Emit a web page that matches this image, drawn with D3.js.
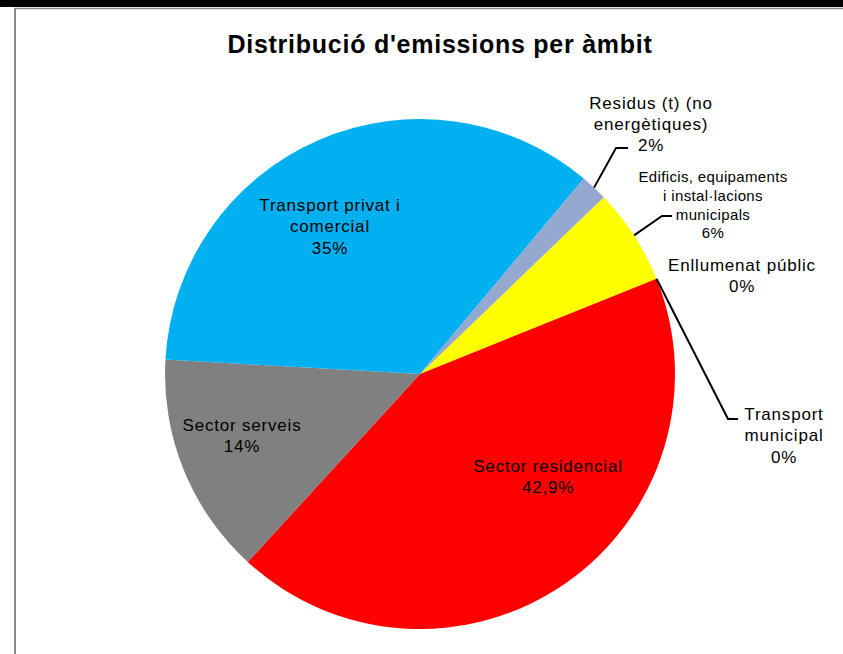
<!DOCTYPE html>
<html>
<head>
<meta charset="utf-8">
<script src="https://cdn.jsdelivr.net/npm/d3@7"></script>
<style>
  html, body { margin: 0; padding: 0; background: #fff; }
  svg { display: block; }
  text { font-family: "Liberation Sans", Arial, sans-serif; fill: #000; }
</style>
</head>
<body>
<svg id="chart" width="843" height="654"></svg>
<script>
// ---- Data ----
const categories = [
  "Edificis, equipaments i instal·lacions municipals",
  "Enllumenat públic",
  "Transport municipal",
  "Sector residencial",
  "Sector serveis",
  "Transport privat i comercial",
  "Residus (t) (no energètiques)"
];
const values = [6.1, 0.0, 0.0, 42.9, 14.1, 35.2, 1.7];
const percentLabels = ["6%", "0%", "0%", "42,9%", "14%", "35%", "2%"];
const labelLines = [
  ["Edificis, equipaments", "i instal·lacions", "municipals"],
  ["Enllumenat públic"],
  ["Transport", "municipal"],
  ["Sector residencial"],
  ["Sector serveis"],
  ["Transport privat i", "comercial"],
  ["Residus (t) (no", "energètiques)"]
];
const colors = ["#FFFF00", "#FFFF00", "#FFFF00", "#FF0000", "#808080", "#00B0F0", "#95A8CF"];
const title = "Distribució d'emissions per àmbit";

// ---- Layout ----
const W = 843, H = 654;
const cx = 420, cy = 374, R = 255;
const svg = d3.select("#chart");

// frame
svg.append("rect").attr("x", 0).attr("y", 0).attr("width", W).attr("height", 7).attr("fill", "#000");
svg.append("line").attr("x1", 14).attr("x2", W).attr("y1", 8.5).attr("y2", 8.5).attr("stroke", "#8a8a8a").attr("stroke-width", 1.5);
svg.append("line").attr("x1", 15).attr("x2", 15).attr("y1", 8).attr("y2", H).attr("stroke", "#8a8a8a").attr("stroke-width", 2);

// title
svg.append("text")
  .attr("x", 440).attr("y", 53)
  .attr("text-anchor", "middle")
  .style("font-size", "25px").style("font-weight", "bold")
  .style("letter-spacing", "0.75px")
  .text(title);

const deg = Math.PI / 180;
const pie = d3.pie().sort(null).value(d => d)
  .startAngle(46.1 * deg).endAngle(46.1 * deg + 2 * Math.PI);
const arcs = pie(values);
const arc = d3.arc().innerRadius(0).outerRadius(R);

const g = svg.append("g").attr("transform", `translate(${cx},${cy})`);
g.selectAll("path").data(arcs).enter().append("path")
  .attr("d", arc)
  .attr("fill", (d, i) => colors[i]);

// label placement (position of label block center, font size, line height, letter spacing)
const labelPos = [
  {x: 713, y: 177, fs: 15, lh: 18.7, ls: 0.35},
  {x: 742, y: 265, fs: 17, lh: 21, ls: 0.8},
  {x: 784, y: 414, fs: 17, lh: 21.5, ls: 0.8},
  {x: 548, y: 466, fs: 17, lh: 21.5, ls: 0.8},
  {x: 242, y: 425, fs: 17, lh: 21.5, ls: 0.8},
  {x: 330, y: 205, fs: 17, lh: 21.5, ls: 0.8},
  {x: 651, y: 103, fs: 17, lh: 21, ls: 0.8}
];

// leader lines: [index, bend point, end point]
const leaders = [
  {i: 6, bend: [616, 148], end: [628, 148]},
  {i: 0, bend: [662, 216], end: [672, 216]},
  {i: 2, bend: [728, 419], end: [738, 419]}
];
leaders.forEach(l => {
  const d = arcs[l.i];
  const a = (d.startAngle + d.endAngle) / 2;
  const p0 = [cx + R * Math.sin(a), cy - R * Math.cos(a)];
  svg.append("polyline")
    .attr("points", [p0, l.bend, l.end].map(p => p.join(",")).join(" "))
    .attr("fill", "none").attr("stroke", "#000").attr("stroke-width", 2);
});

labelLines.forEach((lines, i) => {
  const p = labelPos[i];
  const all = lines.concat([percentLabels[i]]);
  const t = svg.append("text")
    .attr("text-anchor", "middle")
    .style("font-size", p.fs + "px")
    .style("letter-spacing", p.ls + "px");
  all.forEach((s, k) => {
    t.append("tspan").attr("x", p.x).attr("y", p.y + k * p.lh + p.fs * 0.35).text(s);
  });
});
</script>
</body>
</html>
